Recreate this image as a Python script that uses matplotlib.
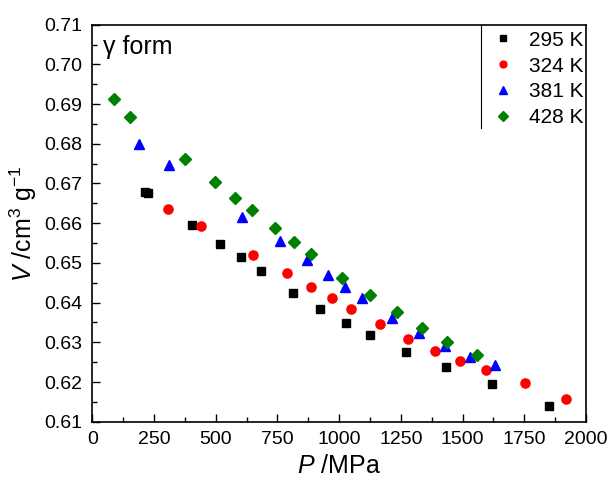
import numpy as np
import matplotlib
matplotlib.use("Agg")
import matplotlib.pyplot as plt
from matplotlib.ticker import MultipleLocator, FormatStrFormatter

plt.rcParams["font.family"] = ["Liberation Sans", "DejaVu Sans"]
plt.rcParams["mathtext.fontset"] = "custom"
plt.rcParams["mathtext.rm"] = "Liberation Sans"
plt.rcParams["mathtext.it"] = "Liberation Sans:italic"

# isotherms of the gamma form: pressure (MPa) and specific volume (cm3/g)
p_295 = [213, 224, 403, 516, 603, 684, 813, 923, 1027, 1125, 1269, 1434, 1619, 1849]
v_295 = [0.6678, 0.6676, 0.6595, 0.6548, 0.6514, 0.6480, 0.6423, 0.6385, 0.6348,
         0.6318, 0.6276, 0.6237, 0.6195, 0.6140]
p_324 = [307, 439, 650, 787, 887, 972, 1048, 1167, 1279, 1388, 1490, 1595, 1753, 1917]
v_324 = [0.6636, 0.6593, 0.6521, 0.6474, 0.6440, 0.6412, 0.6385, 0.6345, 0.6308,
         0.6278, 0.6252, 0.6230, 0.6197, 0.6156]
p_381 = [190, 309, 608, 761, 868, 953, 1023, 1093, 1214, 1324, 1430, 1531, 1630]
v_381 = [0.6800, 0.6747, 0.6616, 0.6555, 0.6507, 0.6469, 0.6439, 0.6411, 0.6360,
         0.6323, 0.6291, 0.6263, 0.6242]
p_428 = [88, 153, 374, 497, 578, 647, 739, 818, 886, 1012, 1123, 1233, 1335, 1437, 1557]
v_428 = [0.6914, 0.6868, 0.6762, 0.6704, 0.6664, 0.6633, 0.6589, 0.6552, 0.6522,
         0.6463, 0.6418, 0.6376, 0.6337, 0.6301, 0.6267]
labels = ["295 K", "324 K", "381 K", "428 K"]

fig = plt.figure(figsize=(6.10, 4.86), dpi=100)
ax = fig.add_axes([0.1513, 0.1323, 0.8094, 0.8169])

series = [(p_295, v_295, "s", "black", 5.8),
          (p_324, v_324, "o", "red", 6.6),
          (p_381, v_381, "^", "blue", 7.2),
          (p_428, v_428, "D", "green", 6.6)]
for (p, v, m, c, ms), lab in zip(series, labels):
    ax.plot(p, v, ls="none", marker=m, color=c, ms=ms, mec=c, label=lab)

ax.set_xlim(0, 2000)
ax.set_ylim(0.61, 0.71)
ax.xaxis.set_major_locator(MultipleLocator(250))
ax.xaxis.set_minor_locator(MultipleLocator(125))
ax.yaxis.set_major_locator(MultipleLocator(0.01))
ax.yaxis.set_minor_locator(MultipleLocator(0.005))
ax.yaxis.set_major_formatter(FormatStrFormatter("%.2f"))
ax.tick_params(which="both", direction="in", top=False, right=False, labelsize=14, width=1.0)
ax.tick_params(which="major", length=6, pad=7)
ax.tick_params(which="minor", length=3.5)
for s in ax.spines.values():
    s.set_linewidth(1.2)

ax.set_xlabel("$P$ /MPa", fontsize=18, labelpad=4)
ax.set_ylabel("$V$ /cm$^{3}$ g$^{-1}$", fontsize=18, labelpad=4)
ax.text(0.022, 0.975, "γ form", transform=ax.transAxes, fontsize=18, va="top", ha="left")

leg = ax.legend(loc="upper right", bbox_to_anchor=(1.0, 0.99), frameon=False, fontsize=15,
                markerscale=0.75, handletextpad=0.75, labelspacing=0.33, borderaxespad=0.0,
                borderpad=0.1, handlelength=1.0)
# left edge of the legend box
ax.plot([0.787, 0.787], [1.0, 0.740], color="black", lw=0.8, transform=ax.transAxes,
        clip_on=False)

fig.savefig("out.png", dpi=100)
